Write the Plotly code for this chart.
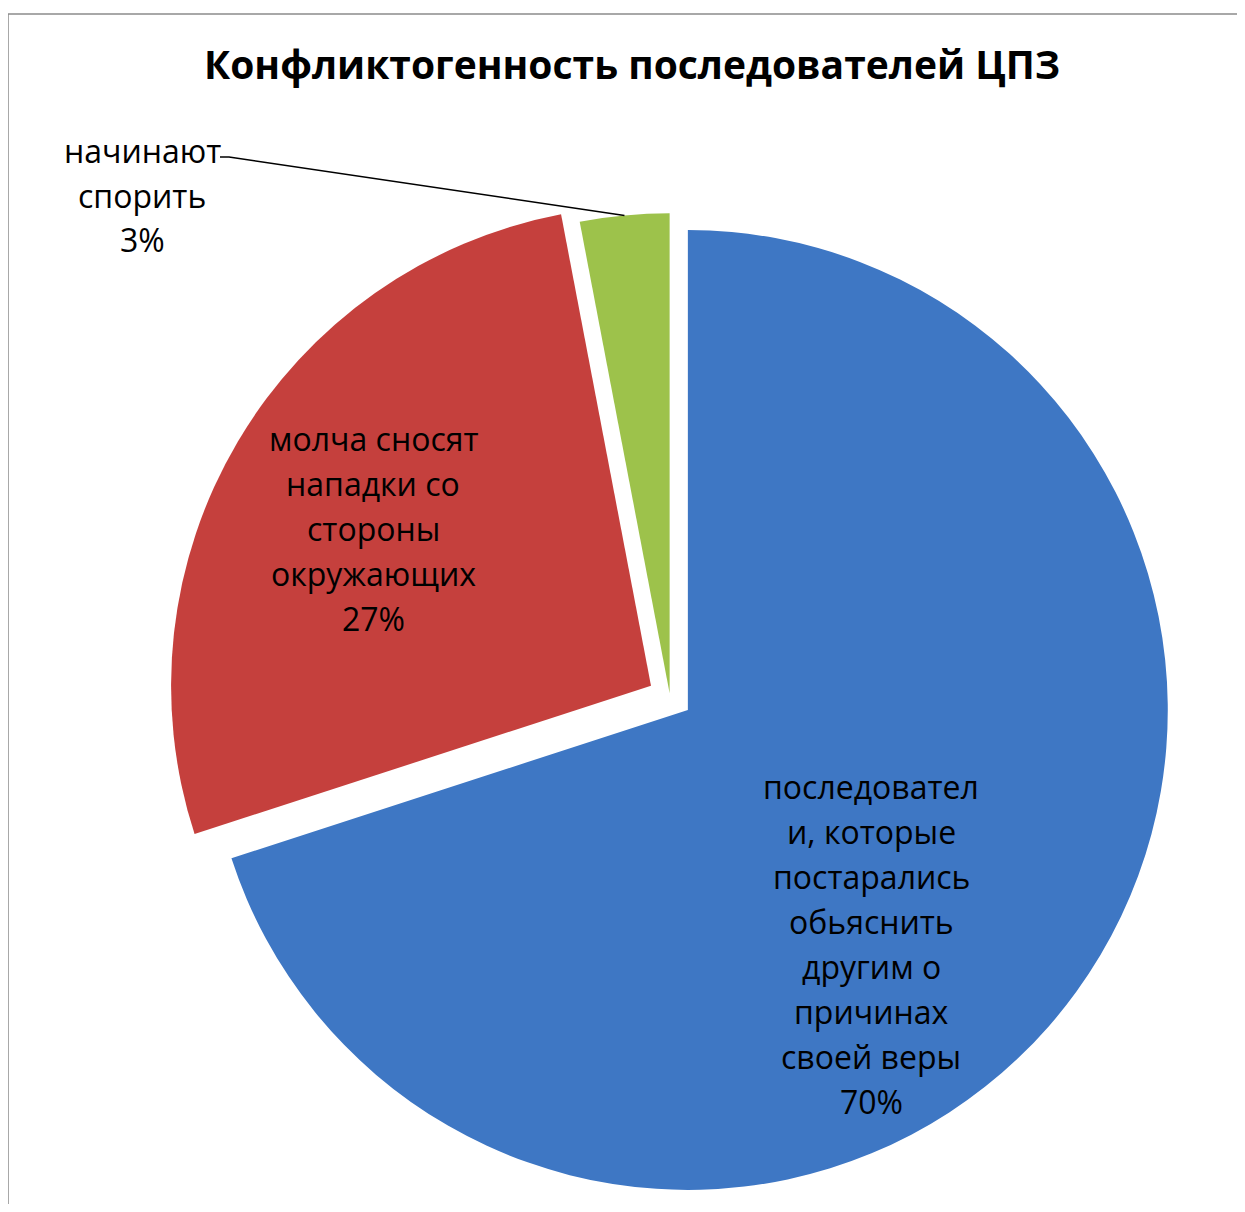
import math
import plotly.graph_objects as go

# ---- data ----
categories = [
    "последовател<br>и, которые<br>постарались<br>обьяснить<br>другим о<br>причинах<br>своей веры",
    "молча сносят<br>нападки со<br>стороны<br>окружающих",
    "начинают<br>спорить",
]
values = [70, 27, 3]
colors = ["#3E77C4", "#C5403D", "#9DC24B"]
pulls = [0.046, 0.046, 0.008]

# ---- layout geometry (page pixels; the page body has an 8px default margin) ----
OFF = 8
W, H = 1245 - 2 * OFF, 1212 - 2 * OFF
margin = dict(l=160, r=W - 160 - 1004, t=187, b=H - 187 - 1004)
plot_w = W - margin["l"] - margin["r"]
plot_h = H - margin["t"] - margin["b"]

font_family = "Open Sans, Noto Sans, DejaVu Sans, sans-serif"
label_size = 32
line_gap = 45


def px_to_paper(px, py):
    return (px - margin["l"]) / plot_w, 1 - (py - margin["t"]) / plot_h


fig = go.Figure()
fig.add_trace(go.Pie(
    labels=[c.replace("<br>", " ") for c in categories],
    values=values,
    textposition="none",
    sort=False,
    direction="clockwise",
    rotation=0,
    pull=pulls,
    marker=dict(colors=colors, line=dict(width=0)),
    showlegend=False,
    hoverinfo="label+percent",
))

# geometry derived from the data, used to place the data labels
total = sum(values)
r_px = min(plot_w, plot_h) / 2 / (1 + max(pulls))
cx = margin["l"] + plot_w / 2
cy = margin["t"] + plot_h / 2


def slice_info(i):
    start = sum(values[:i]) / total
    mid = (start + values[i] / total / 2) * 2 * math.pi
    scx = cx + pulls[i] * r_px * math.sin(mid)
    scy = cy - pulls[i] * r_px * math.cos(mid)
    return mid, scx, scy


def add_label(lines, lx, ly):
    n = len(lines)
    for k, line in enumerate(lines):
        x, y = px_to_paper(lx, ly + (k - (n - 1) / 2) * line_gap)
        fig.add_annotation(
            x=x, y=y, xref="paper", yref="paper",
            text=line, showarrow=False,
            xanchor="center", yanchor="middle",
            font=dict(family=font_family, size=label_size, color="black"),
        )


label_style = {0: (0.62, math.radians(16)), 1: (0.665, math.radians(-1))}
for i in (0, 1):
    mid, scx, scy = slice_info(i)
    rho, dth = label_style[i]
    lx = scx + rho * r_px * math.sin(mid + dth)
    ly = scy - rho * r_px * math.cos(mid + dth)
    pct = round(values[i] / total * 100)
    add_label(categories[i].split("<br>") + [f"{pct}%"], lx, ly)

# small slice: outside label with a leader line to its outer edge
mid, scx, scy = slice_info(2)
hx = scx + r_px * math.sin(mid)
hy = scy - r_px * math.cos(mid)
pct = round(values[2] / total * 100)
add_label(categories[2].split("<br>") + [f"{pct}%"], 142 - OFF, 195 - OFF)
p1 = px_to_paper(220 - OFF, 157 - OFF)
p2 = px_to_paper(229 - OFF, 157 - OFF)
p3 = px_to_paper(hx, hy)
fig.add_shape(
    type="path", xref="paper", yref="paper",
    path=f"M {p1[0]},{p1[1]} L {p2[0]},{p2[1]} L {p3[0]},{p3[1]}",
    line=dict(color="black", width=1.5),
)

# outer chart border (Excel-like frame, cut by the image edge at right/bottom)
b0 = px_to_paper(8 - OFF, 14 - OFF)
b1 = px_to_paper(W + 30, H + 30)
fig.add_shape(
    type="rect", xref="paper", yref="paper",
    x0=b0[0], y1=b0[1], x1=b1[0], y0=b1[1],
    line=dict(color="#8C8C8C", width=1.5),
)

fig.update_layout(
    width=W, height=H, autosize=False,
    margin=margin,
    paper_bgcolor="white", plot_bgcolor="white",
    title=dict(
        text="<b>Конфликтогенность последователей ЦПЗ</b>",
        x=(632 - OFF) / W, xanchor="center",
        y=1 - (65 - OFF) / H, yanchor="middle",
        font=dict(family=font_family, size=39, color="black"),
    ),
)

fig.write_html("out.html")
